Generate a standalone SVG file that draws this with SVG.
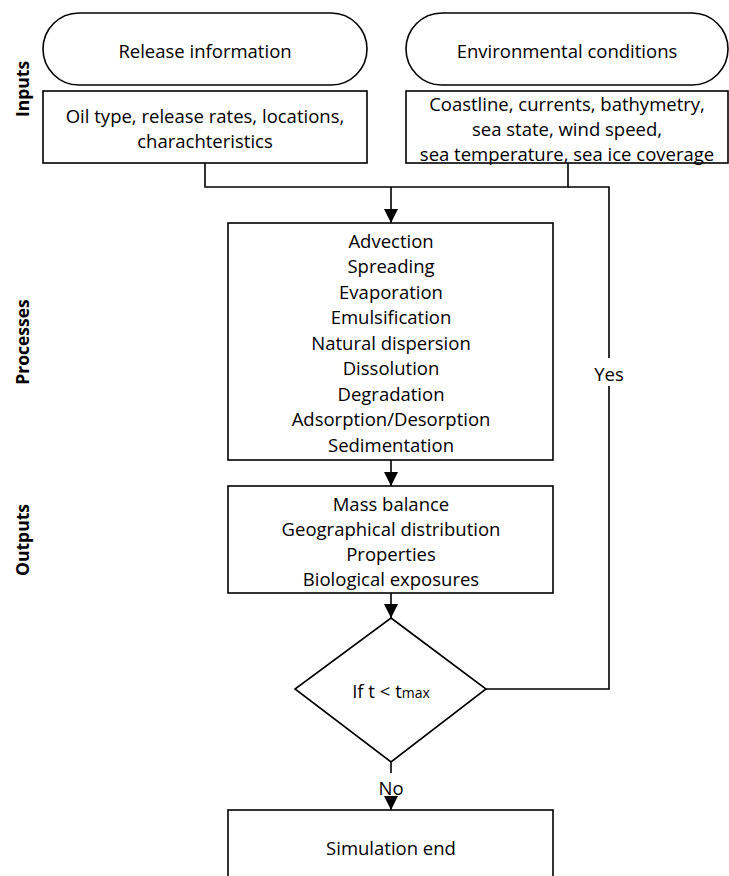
<svg xmlns="http://www.w3.org/2000/svg" width="729" height="876" viewBox="0 0 729 876">
  <style>
    .shape { fill: #ffffff; stroke: #000000; stroke-width: 1.6; }
    .line { fill: none; stroke: #000000; stroke-width: 1.6; }
    .txt { font-family: "Open Sans", "Noto Sans", sans-serif; font-size: 18.5px; fill: #000000; text-anchor: middle; dominant-baseline: central; }
    .lane { font-family: "Open Sans", "Noto Sans", sans-serif; font-size: 17.5px; font-weight: bold; fill: #000000; text-anchor: middle; dominant-baseline: central; }
  </style>
  <defs>
    <marker id="arrow" markerWidth="14" markerHeight="16" refX="14" refY="8" orient="auto" markerUnits="userSpaceOnUse">
      <path d="M0,1 L14,8 L0,15 Z" fill="#000000"/>
    </marker>
  </defs>
  <rect width="729" height="876" fill="#ffffff"/>

  <!-- lane labels -->
  <g id="lane-labels">
    <text class="lane" transform="translate(22,89) rotate(-90)">Inputs</text>
    <text class="lane" transform="translate(22,342) rotate(-90)">Processes</text>
    <text class="lane" transform="translate(22,540) rotate(-90)">Outputs</text>
  </g>

  <!-- connectors -->
  <g id="connectors">
    <path class="line" d="M205,163 V187 H568 V163"/>
    <path class="line" d="M568,187 H609 V358"/>
    <path class="line" d="M609,386 V689 H486"/>
    <path class="line" d="M391,187 V223" marker-end="url(#arrow)"/>
    <path class="line" d="M391,460 V486" marker-end="url(#arrow)"/>
    <path class="line" d="M391,593 V618" marker-end="url(#arrow)"/>
    <path class="line" d="M391,762 V773"/>
    <path class="line" d="M391,798 V810" marker-end="url(#arrow)"/>
    <text class="txt" x="609" y="373">Yes</text>
    <text class="txt" x="391" y="787">No</text>
  </g>

  <g id="release-information">
    <rect class="shape" x="43" y="13" width="324" height="72" rx="36" ry="36"/>
    <text class="txt" x="205" y="50">Release information</text>
  </g>

  <g id="environmental-conditions">
    <rect class="shape" x="406" y="13" width="322" height="72" rx="36" ry="36"/>
    <text class="txt" x="567" y="50">Environmental conditions</text>
  </g>

  <g id="release-details">
    <rect class="shape" x="43" y="91" width="324" height="72"/>
    <text class="txt" x="205" y="115">Oil type, release rates, locations,</text>
    <text class="txt" x="205" y="140">charachteristics</text>
  </g>

  <g id="environment-details">
    <rect class="shape" x="406" y="91" width="322" height="72"/>
    <text class="txt" x="567" y="103">Coastline, currents, bathymetry,</text>
    <text class="txt" x="567" y="128">sea state, wind speed,</text>
    <text class="txt" x="567" y="153">sea temperature, sea ice coverage</text>
  </g>

  <g id="processes">
    <rect class="shape" x="228" y="223" width="325" height="237"/>
    <text class="txt" x="391" y="240">Advection</text>
    <text class="txt" x="391" y="265.5">Spreading</text>
    <text class="txt" x="391" y="291">Evaporation</text>
    <text class="txt" x="391" y="316.5">Emulsification</text>
    <text class="txt" x="391" y="342">Natural dispersion</text>
    <text class="txt" x="391" y="367.5">Dissolution</text>
    <text class="txt" x="391" y="393">Degradation</text>
    <text class="txt" x="391" y="418.5">Adsorption/Desorption</text>
    <text class="txt" x="391" y="444">Sedimentation</text>
  </g>

  <g id="outputs">
    <rect class="shape" x="228" y="486" width="325" height="107"/>
    <text class="txt" x="391" y="503">Mass balance</text>
    <text class="txt" x="391" y="528">Geographical distribution</text>
    <text class="txt" x="391" y="553">Properties</text>
    <text class="txt" x="391" y="578">Biological exposures</text>
  </g>

  <g id="time-check">
    <path class="shape" d="M391,618 L486,689 L391,762 L295,689 Z"/>
    <text class="txt" x="391" y="690">If t &lt; t<tspan font-size="14" dy="2">max</tspan></text>
  </g>

  <g id="simulation-end">
    <rect class="shape" x="228" y="810" width="325" height="80"/>
    <text class="txt" x="391" y="847">Simulation end</text>
  </g>
</svg>
